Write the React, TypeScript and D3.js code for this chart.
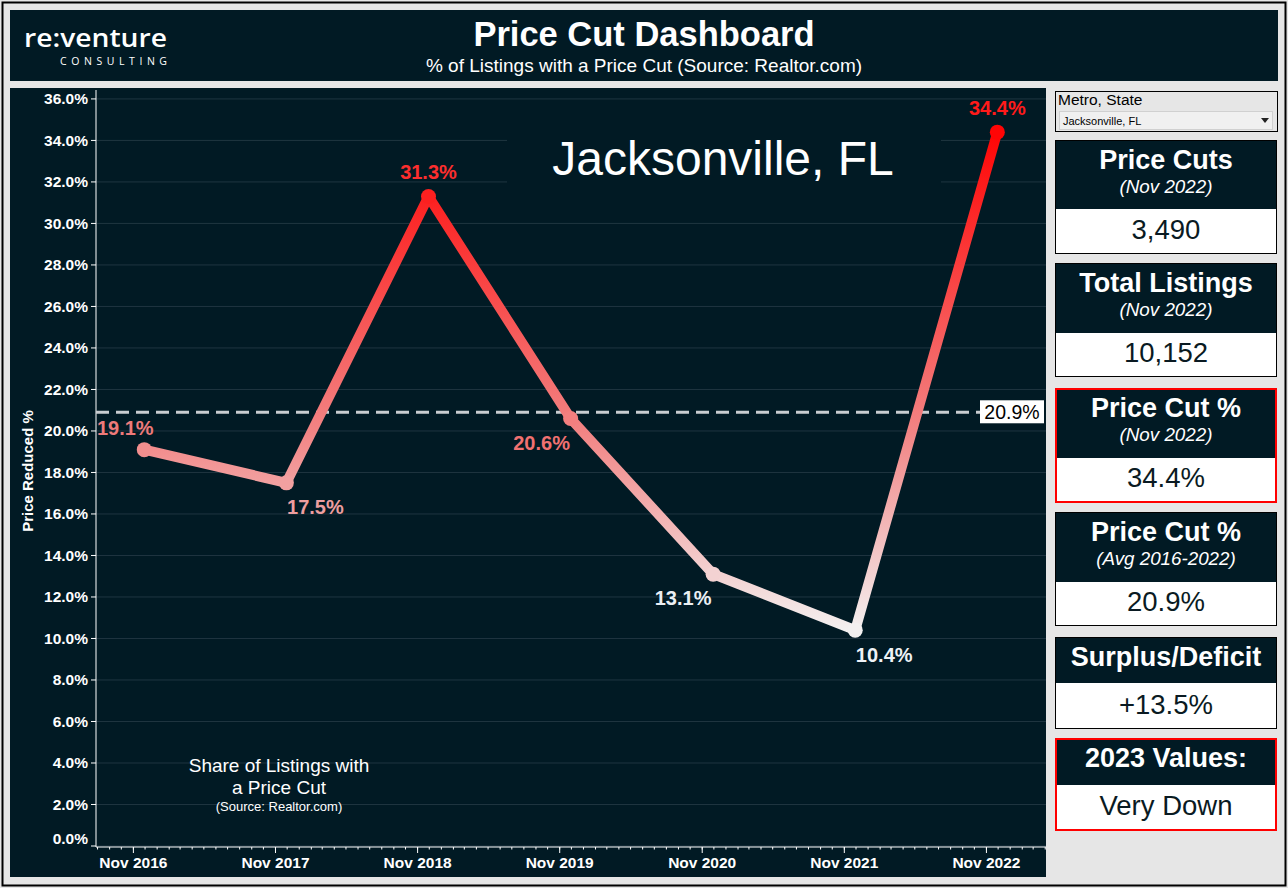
import React from 'react';
import * as d3 from 'd3';

// ---------- data ----------
const pointDates = ["2016-11-29", "2017-11-29", "2018-11-29", "2019-11-29", "2020-11-29", "2021-11-29", "2022-11-29"];
const priceCutPct = [19.1, 17.5, 31.3, 20.6, 13.1, 10.4, 34.4];
const tickYears = [2016, 2017, 2018, 2019, 2020, 2021, 2022];
const tickLabels = ["Nov 2016", "Nov 2017", "Nov 2018", "Nov 2019", "Nov 2020", "Nov 2021", "Nov 2022"];
const yTicks = [0, 2, 4, 6, 8, 10, 12, 14, 16, 18, 20, 22, 24, 26, 28, 30, 32, 34, 36];
const avgValues = [20.9];
const metroNames = ["Jacksonville, FL"];

const cardTitles = ["Price Cuts", "Total Listings", "Price Cut %", "Price Cut %", "Surplus/Deficit", "2023 Values:"];
const cardSubtitles = ["(Nov 2022)", "(Nov 2022)", "(Nov 2022)", "(Avg 2016-2022)", "", ""];
const cardValues = ["3,490", "10,152", "34.4%", "20.9%", "+13.5%", "Very Down"];
const cardHighlighted = [false, false, true, false, false, true];

export default function App() {
  const W = 1288, H = 888;
  const BG = "#e6e6e6";
  const DARK = "#011a24";
  const FONT = "'Liberation Sans', Arial, sans-serif";
  const avgPct = avgValues[0];
  const metro = metroNames[0];
  // label placement relative to each point (style)
  const labelOffsets = [[-19, -15], [29, 31], [0, -17], [-29, 31], [-30, 31], [29, 32], [0, -17]];

  const parse = d3.timeParse("%Y-%m-%d");
  const dates = pointDates.map(d => parse(d) as Date);

  const x = d3.scaleTime()
    .domain([new Date(2016, 6, 28), new Date(2023, 3, 3)])
    .range([96, 1046]);
  const y = d3.scaleLinear().domain([0, 36.43]).range([846, 90]);

  const colorScale = d3.scaleLinear<string>()
    .domain([10.4, 20, 34.4])
    .range(["#f3f0f0", "#f28484", "#ff0505"]);
  const labelColor = d3.scaleLinear<string>()
    .domain([10.4, 14, 19, 34.4])
    .range(["#eef2f6", "#eaeef2", "#ee7b7b", "#ff1a1a"]);

  const minV = d3.min(priceCutPct) as number;
  const maxV = d3.max(priceCutPct) as number;
  const stopVals = d3.range(0, 1.0001, 0.1).map(t => minV + t * (maxV - minV));

  const line = d3.line<number>()
    .x((_, i) => x(dates[i]))
    .y(v => y(v));

  const monthTicks = d3.timeMonth.range(x.domain()[0], x.domain()[1]);
  const majorTicks = tickYears.map(yr => new Date(yr, 10, 1));

  const px = 1055, pw = 222;
  const cardTops = [140, 263, 388, 512, 637, 738];
  const cardHeights = [114, 114, 115, 114, 92, 93];
  const headerHeights = [69, 70, 70, 70, 46, 47];

  return (
    <div style={{ position: 'absolute', left: 0, top: 0 }}>
      <svg width={W} height={H} style={{ display: 'block', fontFamily: FONT }}>
        <defs>
          <linearGradient id="lineGrad" gradientUnits="userSpaceOnUse" x1={0} x2={0} y1={y(minV)} y2={y(maxV)}>
            {stopVals.map((v, i) => (
              <stop key={i} offset={(v - minV) / (maxV - minV)} stopColor={colorScale(v)} />
            ))}
          </linearGradient>
        </defs>
        <rect x={0} y={0} width={W} height={H} fill={BG} />
        <rect x={2.5} y={2.5} width={W - 5} height={H - 5} fill="none" stroke="#000" strokeWidth={2} />

        {/* header */}
        <rect x={10} y={10} width={1268} height={71} fill={DARK} />
        <text x={24} y={47} fill="#fff" fontFamily="'Open Sans', sans-serif" fontWeight={600} fontSize={26} textLength={143} lengthAdjust="spacingAndGlyphs">re:venture</text>
        <text x={60} y={65} fill="#fff" fontFamily="'Open Sans', sans-serif" fontSize={10.5} textLength={107} lengthAdjust="spacing">CONSULTING</text>
        <text x={644} y={46} textAnchor="middle" fill="#fff" fontWeight="bold" fontSize={34.5}>Price Cut Dashboard</text>
        <text x={644} y={72} textAnchor="middle" fill="#fff" fontSize={19}>% of Listings with a Price Cut (Source: Realtor.com)</text>

        {/* chart panel */}
        <rect x={10} y={88} width={1036} height={789} fill={DARK} />
        {yTicks.map(t => (
          <line key={t} x1={96} x2={1046} y1={y(t)} y2={y(t)} stroke="#1f3540" strokeWidth={1} />
        ))}
        <rect x={507} y={112} width={434} height={90} fill={DARK} />
        <text x={723} y={175} textAnchor="middle" fill="#fff" fontSize={48}>{metro}</text>

        {/* y axis */}
        <line x1={96} x2={96} y1={90} y2={847} stroke="#fff" strokeWidth={1} />
        {yTicks.map(t => (
          <g key={t}>
            <line x1={91} x2={96} y1={y(t)} y2={y(t)} stroke="#fff" />
            <text x={88} y={(t === 0 ? y(t) - 8 : y(t)) + 5.5} textAnchor="end" fill="#fff" fontWeight="bold" fontSize={15.5}>{t.toFixed(1)}%</text>
          </g>
        ))}
        <text transform="translate(33,471) rotate(-90)" textAnchor="middle" fill="#fff" fontWeight="bold" fontSize={15}>Price Reduced %</text>

        {/* x axis */}
        <line x1={96} x2={1046} y1={847} y2={847} stroke="#fff" strokeWidth={1} />
        {monthTicks.map((d, i) => (
          <line key={i} x1={x(d)} x2={x(d)} y1={847} y2={849.5} stroke="#fff" />
        ))}
        {majorTicks.map((d, i) => (
          <g key={i}>
            <line x1={x(d)} x2={x(d)} y1={847} y2={853} stroke="#fff" />
            <text x={x(d)} y={868} textAnchor="middle" fill="#fff" fontWeight="bold" fontSize={15.5}>{tickLabels[i]}</text>
          </g>
        ))}

        {/* average line */}
        <line x1={96} x2={980} y1={y(avgPct)} y2={y(avgPct)} stroke="#c9cdd0" strokeWidth={3} strokeDasharray="13 7" />
        <rect x={980} y={y(avgPct) - 12} width={64} height={23} fill="#fff" />
        <text x={1012} y={y(avgPct) + 6.5} textAnchor="middle" fill="#000" fontSize={19.5}>{avgPct.toFixed(1)}%</text>

        {/* data line */}
        <path d={line(priceCutPct) || ''} fill="none" stroke="url(#lineGrad)" strokeWidth={10} strokeLinejoin="round" strokeLinecap="round" />
        {priceCutPct.map((v, i) => (
          <circle key={i} cx={x(dates[i])} cy={y(v)} r={7.5} fill={colorScale(v)} />
        ))}
        {priceCutPct.map((v, i) => (
          <text key={i} x={x(dates[i]) + labelOffsets[i][0]} y={y(v) + labelOffsets[i][1]} textAnchor="middle" fill={labelColor(v)} fontWeight="bold" fontSize={20}>{v.toFixed(1)}%</text>
        ))}

        {/* annotation */}
        <text x={279} y={772} textAnchor="middle" fill="#fff" fontSize={19}>Share of Listings with</text>
        <text x={279} y={794} textAnchor="middle" fill="#fff" fontSize={19}>a Price Cut</text>
        <text x={279} y={811} textAnchor="middle" fill="#fff" fontSize={13}>(Source: Realtor.com)</text>

        {/* right panel: dropdown */}
        <rect x={px + 0.5} y={91.5} width={pw} height={40} fill={BG} stroke="#000" strokeWidth={1} />
        <text x={px + 3} y={105} fill="#000" fontSize={15.5}>Metro, State</text>
        <rect x={1059.5} y={111.5} width={213} height={18} fill="#f0f0f0" stroke="#d0d0d0" />
        <text x={1063} y={124.5} fill="#000" fontSize={11}>{metro}</text>
        <path d="M1261,118 L1269,118 L1265,123 Z" fill="#222" />

        {/* cards */}
        {cardTitles.map((title, i) => {
          const top = cardTops[i];
          const h = cardHeights[i];
          const hh = headerHeights[i];
          const hl = cardHighlighted[i];
          const hasSub = cardSubtitles[i] !== "";
          return (
            <g key={i}>
              <rect x={px} y={top} width={pw} height={h} fill="#fff" />
              <rect x={px} y={top} width={pw} height={hh} fill={DARK} />
              <rect x={hl ? px + 1 : px + 0.5} y={hl ? top + 1 : top + 0.5} width={hl ? pw - 2 : pw - 1} height={hl ? h - 2 : h - 1}
                fill="none" stroke={hl ? "#ff0000" : "#000"} strokeWidth={hl ? 2 : 1} />
              <text x={px + pw / 2} y={top + 29} textAnchor="middle" fill="#fff" fontWeight="bold" fontSize={27}>{title}</text>
              {hasSub && (
                <text x={px + pw / 2} y={top + 53} textAnchor="middle" fill="#fff" fontStyle="italic" fontSize={18.8}>{cardSubtitles[i]}</text>
              )}
              <text x={px + pw / 2} y={top + (hasSub ? 99 : 77)} textAnchor="middle" fill="#0a1a22" fontSize={27.5}>{cardValues[i]}</text>
            </g>
          );
        })}
      </svg>
    </div>
  );
}
